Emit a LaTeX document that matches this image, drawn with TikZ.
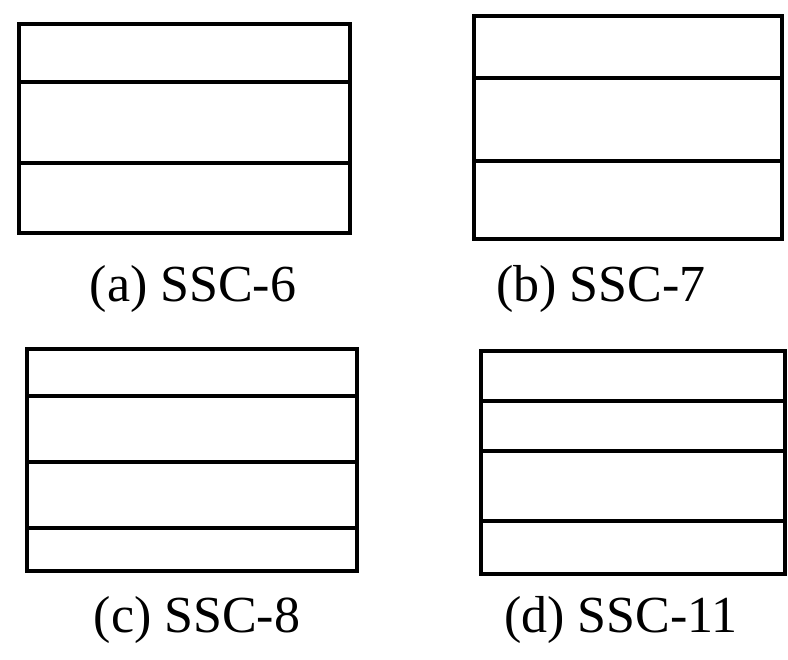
\documentclass[tikz,border=0pt]{standalone}
\usepackage{fontspec}
\setmainfont{Liberation Serif}
\begin{document}
\begin{tikzpicture}[x=1pt,y=-1pt,
  panel/.style={line width=3.5pt,line join=miter},
  sep/.style={line width=3.2pt},
  captext/.style={anchor=base,font=\fontsize{52}{60}\selectfont,inner sep=0pt}]
\useasboundingbox (0,0) rectangle (788,660);
% (a)
\draw[panel] (19,24) rectangle (350,233);
\draw[sep] (19,82) -- (350,82);
\draw[sep] (19,163) -- (350,163);
\node[captext] (la) at (193,302) {(a) SSC-6};
% (b)
\draw[panel] (474,16) rectangle (782,239);
\draw[sep] (474,78) -- (782,78);
\draw[sep] (474,161) -- (782,161);
\node[captext] (lb) at (601,302) {(b) SSC-7};
% (c)
\draw[panel] (27,349) rectangle (357,571);
\draw[sep] (27,396) -- (357,396);
\draw[sep] (27,462) -- (357,462);
\draw[sep] (27,528) -- (357,528);
\node[captext] (lc) at (197,632) {(c) SSC-8};
% (d)
\draw[panel] (481,351) rectangle (785,574);
\draw[sep] (481,401) -- (785,401);
\draw[sep] (481,451) -- (785,451);
\draw[sep] (481,521) -- (785,521);
\node[captext] (ld) at (621,632) {(d) SSC-11};
\end{tikzpicture}
\end{document}
